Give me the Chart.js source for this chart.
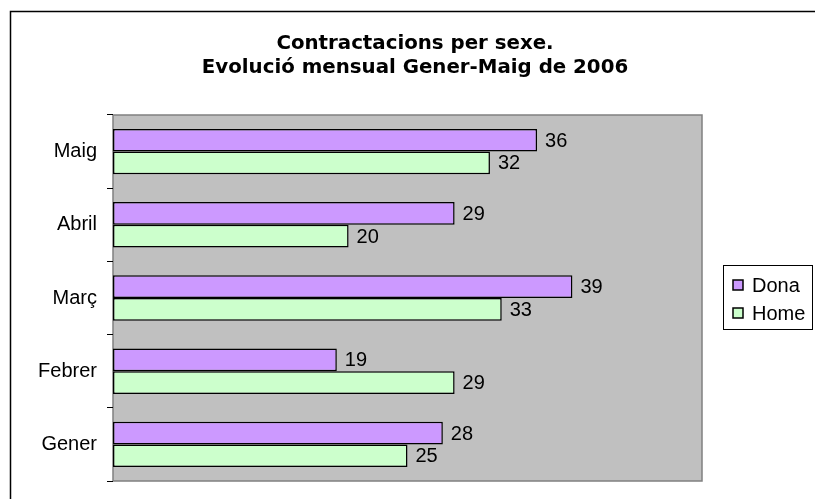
<!DOCTYPE html>
<html>
<head>
<meta charset="utf-8">
<script src="https://cdn.jsdelivr.net/npm/chart.js@4"></script>
<style>
html,body{margin:0;padding:0;background:#fff;}
canvas{display:block;}
</style>
</head>
<body>
<canvas id="c" width="815" height="499"></canvas>
<script>
const categories = ['Maig', 'Abril', 'Març', 'Febrer', 'Gener'];
const dona = [36, 29, 39, 19, 28];
const home = [32, 20, 33, 29, 25];
const seriesNames = ['Dona', 'Home'];
const titleLines = ['Contractacions per sexe.', 'Evolució mensual Gener-Maig de 2006'];
const xMax = 50;

const decor = {
  id: 'decor',
  beforeDraw(chart) {
    const ctx = chart.ctx, a = chart.chartArea;
    ctx.save();
    ctx.fillStyle = '#fff';
    ctx.fillRect(0, 0, chart.width, chart.height);
    // outer frame
    ctx.strokeStyle = '#000';
    ctx.lineWidth = 1.5;
    ctx.beginPath();
    ctx.moveTo(10.5, chart.height + 5);
    ctx.lineTo(10.5, 11.5);
    ctx.lineTo(chart.width + 5, 11.5);
    ctx.stroke();
    // plot area
    ctx.fillStyle = '#C0C0C0';
    ctx.fillRect(a.left, a.top, a.right - a.left, a.bottom - a.top);
    ctx.strokeStyle = '#808080';
    ctx.lineWidth = 1.5;
    ctx.strokeRect(a.left, a.top, a.right - a.left, a.bottom - a.top);
    // title
    ctx.fillStyle = '#000';
    ctx.font = 'bold 19.8px "DejaVu Sans", sans-serif';
    ctx.textAlign = 'center';
    ctx.textBaseline = 'alphabetic';
    ctx.fillText(titleLines[0], 415, 49);
    ctx.fillText(titleLines[1], 415, 73);
    ctx.restore();
  },
  afterDatasetsDraw(chart) {
    const ctx = chart.ctx;
    ctx.save();
    ctx.fillStyle = '#000';
    ctx.font = '20px "Liberation Sans", Arial, sans-serif';
    ctx.textAlign = 'left';
    ctx.textBaseline = 'middle';
    chart.data.datasets.forEach((ds, i) => {
      chart.getDatasetMeta(i).data.forEach((bar, j) => {
        ctx.fillText(String(ds.data[j]), bar.x + 8, bar.y + 1);
      });
    });
    // legend
    ctx.strokeStyle = '#000';
    ctx.lineWidth = 1;
    ctx.strokeRect(723.5, 265.5, 89, 64);
    const rows = [285, 313];
    chart.data.datasets.forEach((ds, i) => {
      const y = rows[i];
      ctx.fillStyle = ds.backgroundColor;
      ctx.fillRect(733, y - 5, 10, 10);
      ctx.lineWidth = 1.5;
      ctx.strokeRect(733, y - 5, 10, 10);
      ctx.fillStyle = '#000';
      ctx.font = '20px "Liberation Sans", Arial, sans-serif';
      ctx.fillText(ds.label, 752, y + 1);
    });
    ctx.restore();
  }
};

new Chart(document.getElementById('c'), {
  type: 'bar',
  data: {
    labels: categories,
    datasets: [
      { label: seriesNames[0], data: dona, backgroundColor: '#CC99FF', borderColor: '#000', borderWidth: 1.5, borderSkipped: false, categoryPercentage: 0.62, barPercentage: 1.0 },
      { label: seriesNames[1], data: home, backgroundColor: '#CCFFCC', borderColor: '#000', borderWidth: 1.5, borderSkipped: false, categoryPercentage: 0.62, barPercentage: 1.0 }
    ]
  },
  options: {
    indexAxis: 'y',
    responsive: false,
    animation: false,
    layout: { padding: { top: 115, bottom: 18, left: 0, right: 113 } },
    plugins: {
      legend: { display: false },
      title: { display: false },
      tooltip: { enabled: false }
    },
    scales: {
      x: { display: false, min: 0, max: xMax },
      y: {
        afterFit(scale) { scale.width = 113; scale.paddingTop = 0; scale.paddingBottom = 0; },
        border: { display: false },
        grid: { offset: true, drawOnChartArea: false, drawTicks: true, tickLength: 6, color: '#000', lineWidth: 1 },
        ticks: { color: '#000', padding: 10, font: { family: '"Liberation Sans", Arial, sans-serif', size: 20 } }
      }
    }
  },
  plugins: [decor]
});
</script>
</body>
</html>
